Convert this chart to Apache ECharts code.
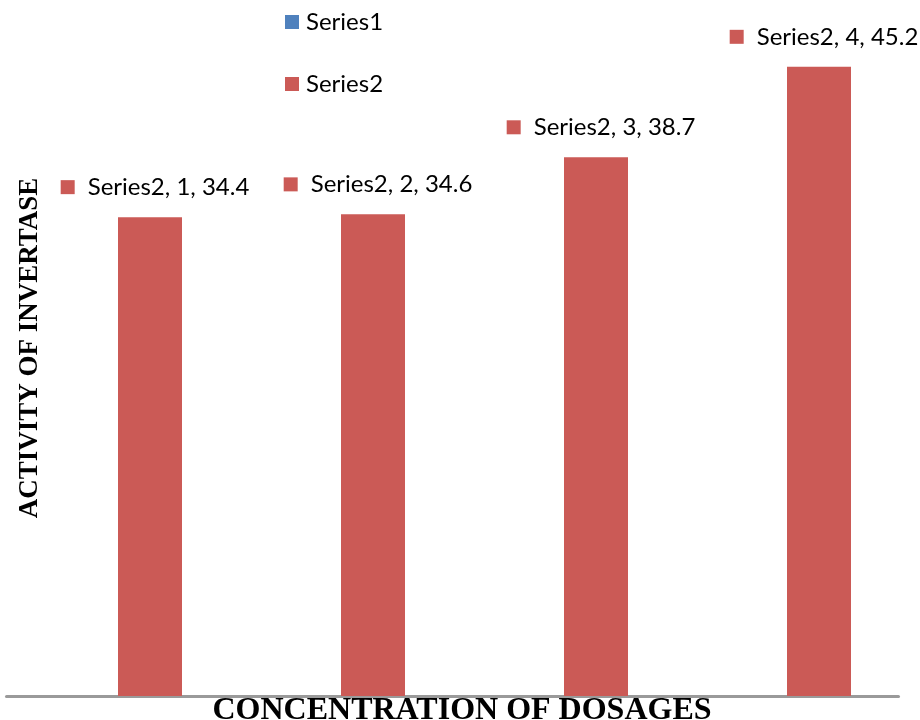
<!DOCTYPE html>
<html>
<head>
<meta charset="utf-8">
<script src="https://cdn.jsdelivr.net/npm/echarts@6/dist/echarts.min.js"></script>
<style>html,body{margin:0;padding:0;background:#fff;}#c{width:920px;height:720px;}</style>
</head>
<body>
<div id="c"></div>
<script>
var categories = ['1', '2', '3', '4'];
var series1Values = ['-', '-', '-', '-'];
var series2Values = [34.4, 34.6, 38.7, 45.2];
var seriesNames = ['Series1', 'Series2'];
var xTitle = 'CONCENTRATION OF DOSAGES';
var yTitle = 'ACTIVITY OF INVERTASE';

var chart = echarts.init(document.getElementById('c'));
var labelFont = 'Lato, "Open Sans", sans-serif';
chart.setOption({
  animation: false,
  backgroundColor: '#ffffff',
  color: ['#4F81BD', '#CB5A56'],
  grid: { left: 6.5, right: 21.5, top: 0, bottom: 24, containLabel: false },
  legend: {
    orient: 'vertical',
    left: 280,
    top: 5,
    itemWidth: 14,
    itemHeight: 14,
    itemGap: 38,
    icon: 'rect',
    data: seriesNames,
    textStyle: { fontFamily: labelFont, fontSize: 24, color: '#000', padding: [0, 0, 0, 2] }
  },
  xAxis: {
    type: 'category',
    data: categories,
    axisLine: { show: true, lineStyle: { color: '#9a9a9a', width: 3 } },
    axisTick: { show: false },
    axisLabel: { show: false },
    splitLine: { show: false }
  },
  yAxis: {
    type: 'value',
    min: 0,
    max: 50,
    show: false
  },
  graphic: [
    {
      type: 'text',
      x: 30, y: 348,
      rotation: Math.PI / 2,
      style: {
        text: yTitle,
        font: 'bold 27px "Liberation Serif", "Times New Roman", serif',
        fill: '#000',
        align: 'center',
        verticalAlign: 'middle'
      }
    },
    {
      type: 'text',
      x: 462, y: 711,
      style: {
        text: xTitle,
        font: 'bold 32px "Liberation Serif", "Times New Roman", serif',
        fill: '#000',
        align: 'center',
        verticalAlign: 'middle'
      }
    }
  ],
  series: [
    {
      name: seriesNames[0],
      type: 'bar',
      data: series1Values,
      barWidth: 64,
      barGap: '0%'
    },
    {
      name: seriesNames[1],
      type: 'bar',
      data: series2Values,
      barWidth: 64,
      barGap: '0%',
      itemStyle: { color: '#CB5A56' },
      label: {
        show: true,
        position: 'top',
        distance: 18,
        offset: [5, 0],
        formatter: function (p) {
          return '{m|}{t|' + p.seriesName + ', ' + p.name + ', ' + p.value + '}';
        },
        rich: {
          m: { width: 14, height: 14, backgroundColor: '#CB5A56' },
          t: { fontFamily: labelFont, fontSize: 24, color: '#000', padding: [0, 0, 0, 13] }
        }
      }
    }
  ]
});
</script>
</body>
</html>
